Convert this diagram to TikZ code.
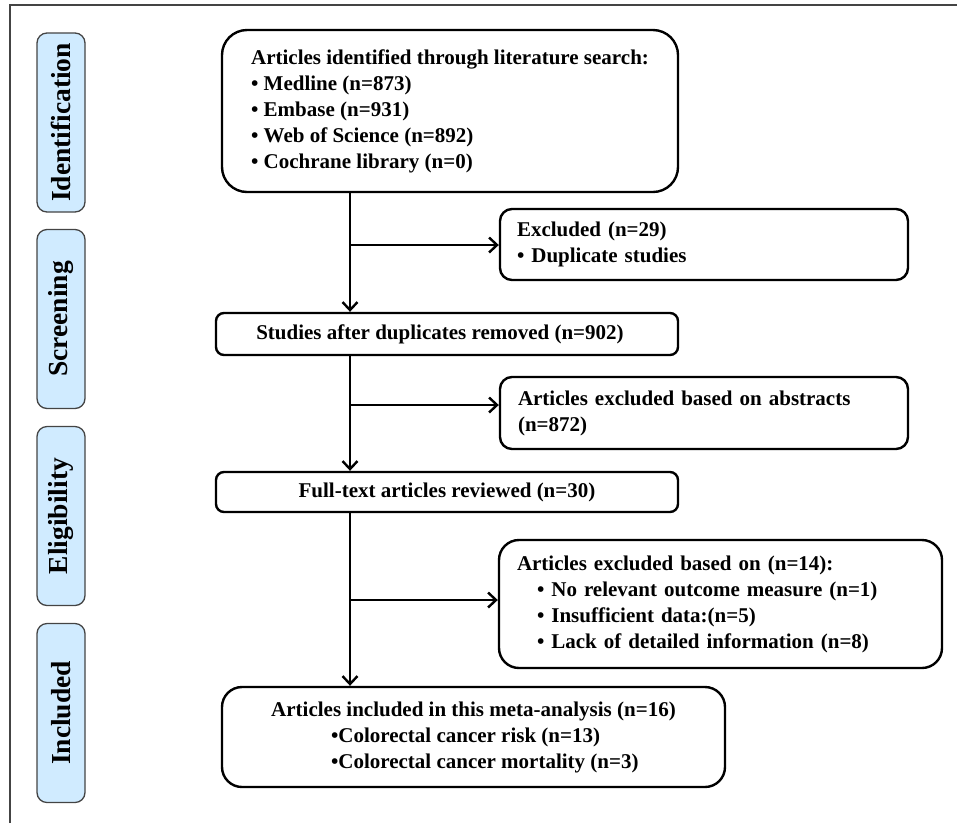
\documentclass[tikz,border=0pt]{standalone}
\usepackage{fontspec}
\setmainfont{Liberation Serif}
\usetikzlibrary{arrows.meta}
\definecolor{stagefill}{HTML}{D0EBFF}
\definecolor{framegray}{HTML}{444444}
\begin{document}
\begin{tikzpicture}[x=1pt,y=-1pt,
  txt/.style={font=\bfseries\fontsize{21}{26}\selectfont},
  box/.style={txt, draw=black, line width=2.4pt, fill=white, inner sep=0pt},
  lbox/.style={box, align=left, inner xsep=#1},
  stagebox/.style={draw=framegray, line width=1.3pt, fill=stagefill, rounded corners=10pt,
    rotate=90, minimum width=179pt, minimum height=48pt, inner sep=0pt,
    font=\bfseries\fontsize{27.5}{30}\selectfont},
  arr/.style={line width=2.4pt, -{Straight Barb[length=8pt,width=15pt]}},
  framel/.style={draw=framegray, line width=1.8pt}
]
\useasboundingbox (0,0) rectangle (957,823);
% frame
\coordinate (fa) at (10,823);
\coordinate (fb) at (10,5);
\coordinate (fc) at (957,5);
\draw[framel] (fa) -- (fb) -- (fc);

% stage labels
\node[stagebox] (s1) at (61,122.5) {Identification};
\node[stagebox] (s2) at (61,319) {Screening};
\node[stagebox] (s3) at (61,516) {Eligibility};
\node[stagebox] (s4) at (61,713) {Included};

% main boxes
\node[box, rounded corners=25pt, minimum width=456pt, minimum height=162pt, align=left] (b1) at (450,111)
 {Articles identified through literature search:\\
  • Medline (n=873)\\
  • Embase (n=931)\\
  • Web of Science (n=892)\\
  • Cochrane library (n=0)};
\node[box, rounded corners=8pt, minimum width=462pt, minimum height=42pt] (b2) at (447,334)
 {Studies after duplicates removed (n=902)\hspace*{14pt}};
\node[box, rounded corners=8pt, minimum width=462pt, minimum height=40pt] (b3) at (447,492)
 {Full-text articles reviewed (n=30)};
\node[box, rounded corners=20pt, minimum width=503pt, minimum height=100pt, align=center] (b4) at (473.5,737)
 {Articles included in this meta-analysis (n=16)\\
  \makebox[285pt][l]{•Colorectal cancer risk (n=13)}\\
  \makebox[285pt][l]{•Colorectal cancer mortality (n=3)}};

% exclusion boxes
\node[lbox=17pt, rounded corners=12pt, text width=374pt, minimum height=71pt] (e1) at (704,244.5)
 {Excluded (n=29)\\
  • Duplicate studies};
\node[lbox=18pt, rounded corners=12pt, text width=372pt, minimum height=72pt] (e2) at (704,413)
 {Articles excluded based on abstracts\\
  (n=872)};
\node[lbox=18pt, rounded corners=20pt, text width=407pt, minimum height=128pt] (e3) at (720.5,604)
 {Articles excluded based on (n=14):\\
  \hspace*{20pt}• No relevant outcome measure (n=1)\\
  \hspace*{20pt}• Insufficient data:(n=5)\\
  \hspace*{20pt}• Lack of detailed information (n=8)};

% spine
\coordinate (spine) at (350,0);
\coordinate (j1) at (350,245);
\coordinate (j2) at (350,405);
\coordinate (j3) at (350,600);
\draw[arr] (b1.south -| spine) -- (b2.north -| spine);
\draw[arr] (b2.south -| spine) -- (b3.north -| spine);
\draw[arr] (b3.south -| spine) -- (b4.north -| spine);
\draw[arr] (j1) -- (e1.west |- j1);
\draw[arr] (j2) -- (e2.west |- j2);
\draw[arr] (j3) -- (e3.west |- j3);
\end{tikzpicture}
\end{document}
